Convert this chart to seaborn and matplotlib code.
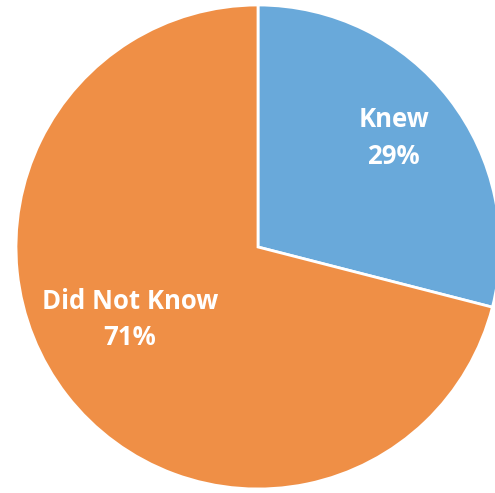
import matplotlib
matplotlib.use("Agg")
import matplotlib.pyplot as plt
import seaborn as sns

categories = ["Knew", "Did Not Know"]
shares = [29, 71]
colors = ["#69A9DA", "#EF8F46"]

# label anchors in axes data units (pie radius = 1)
label_pos = [(0.56, 0.45), (-0.53, -0.30)]

sns.set_style("white")
plt.rcParams["font.family"] = ["Open Sans", "DejaVu Sans"]

fig = plt.figure(figsize=(4.95, 4.93), dpi=100)
ax = fig.add_axes([16 / 495, 4 / 493, 484 / 495, 484 / 493])
ax.pie(shares, colors=colors, startangle=90, counterclock=False,
       wedgeprops=dict(edgecolor="white", linewidth=2), radius=1.0)
ax.set_xlim(-1, 1)
ax.set_ylim(-1, 1)
ax.set_aspect("equal")
ax.axis("off")

for name, val, (x, y) in zip(categories, shares, label_pos):
    ax.text(x, y, f"{name}\n{val}%", ha="center", va="center", color="white",
            fontsize=18.5, fontweight="bold", linespacing=1.45)

fig.savefig("out.png", dpi=100, facecolor="white")
